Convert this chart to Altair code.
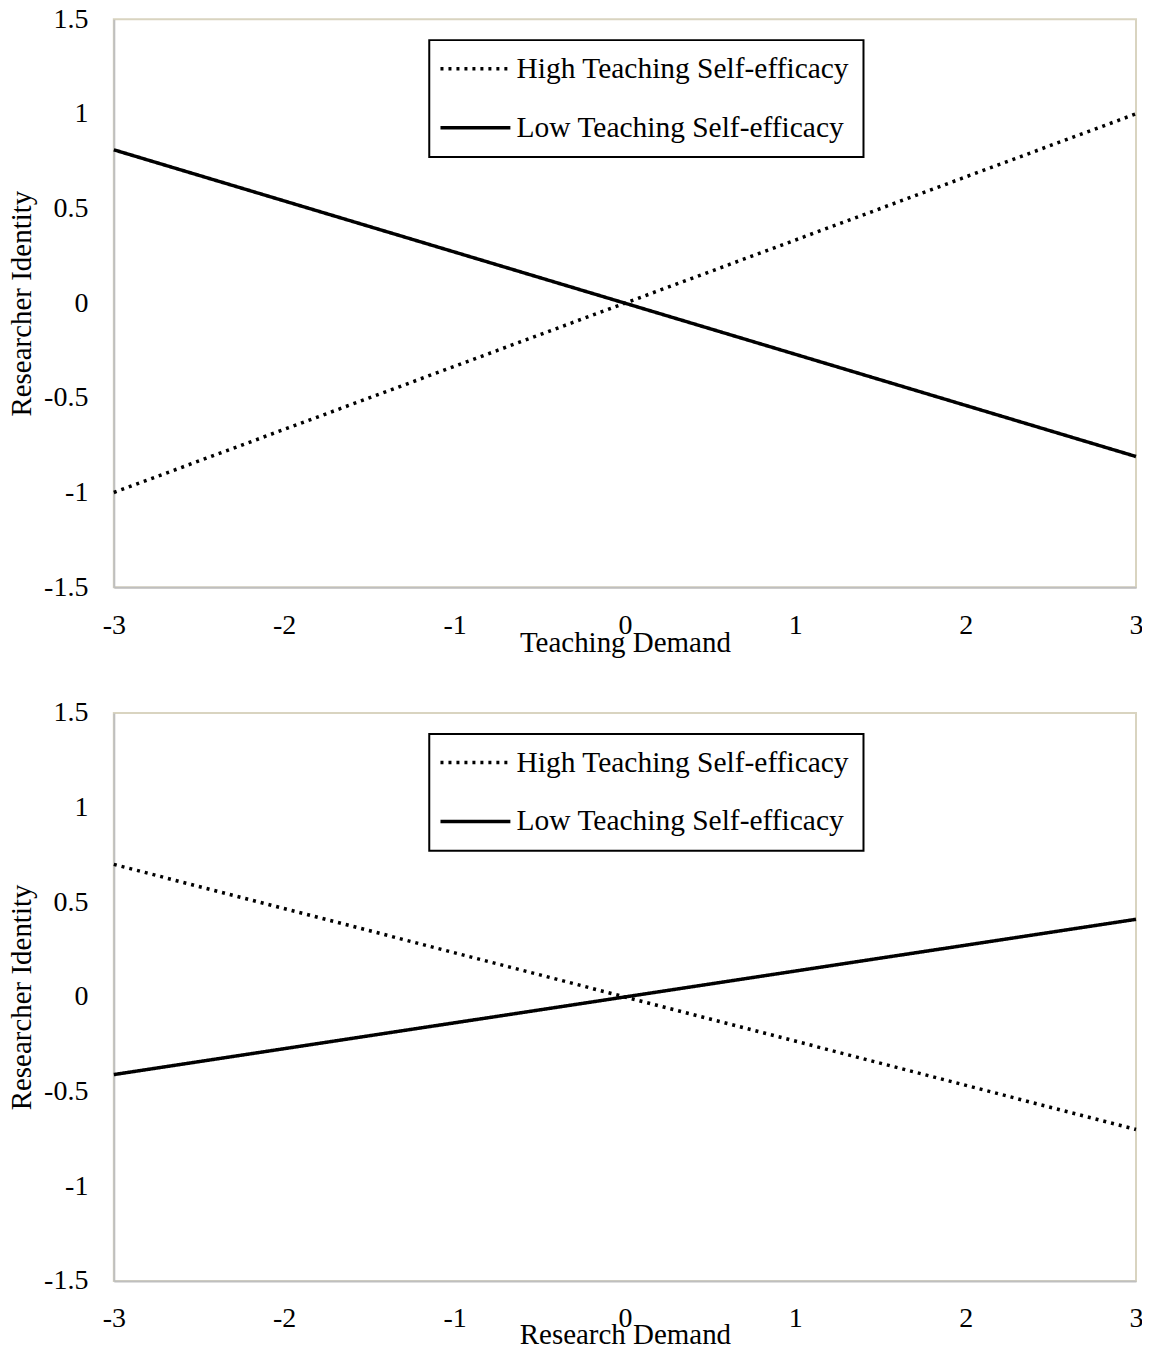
import altair as alt
import pandas as pd

x_vals = [-3, 3]
series_names = ["High Teaching Self-efficacy", "Low Teaching Self-efficacy"]
top_high = [-1.0, 1.0]
top_low = [0.81, -0.81]
bottom_high = [0.70, -0.70]
bottom_low = [-0.41, 0.41]
x_ticks = [-3, -2, -1, 0, 1, 2, 3]
y_ticks = [-1.5, -1, -0.5, 0, 0.5, 1, 1.5]
x_titles = ["Teaching Demand", "Research Demand"]
y_title = "Researcher Identity"

FONT = "Liberation Serif"


def make_df(high, low):
    rows = []
    for xv, yv in zip(x_vals, high):
        rows.append({"x": xv, "y": yv, "series": series_names[0]})
    for xv, yv in zip(x_vals, low):
        rows.append({"x": xv, "y": yv, "series": series_names[1]})
    return pd.DataFrame(rows)


def panel(df, xtitle, title_y):
    return alt.Chart(df).mark_line(strokeWidth=3.5, color="black", clip=False).encode(
        x=alt.X("x:Q",
                scale=alt.Scale(domain=[-3, 3], nice=False, zero=False),
                axis=alt.Axis(values=x_ticks, title=xtitle, labelExpr="'' + datum.value",
                              ticks=False, grid=False, labelPadding=24, labelFlush=False,
                              titleX=512, titleY=title_y, titleBaseline="alphabetic", titleAlign="center",
                              domainColor="#BFBFBF", domainWidth=2)),
        y=alt.Y("y:Q",
                scale=alt.Scale(domain=[-1.5, 1.5], nice=False, zero=False),
                axis=alt.Axis(values=y_ticks, title=y_title, labelExpr="'' + datum.value",
                              ticks=False, grid=False, labelPadding=26, labelFlush=False,
                              titleX=-92, titleY=284.5, titleAngle=270, titleBaseline="middle",
                              titleAlign="center", domainColor="#BFBFBF", domainWidth=2)),
        strokeDash=alt.StrokeDash(
            "series:N",
            scale=alt.Scale(domain=series_names, range=[[3, 5], [1, 0]]),
            legend=alt.Legend(title=None, orient="none", legendX=316, legendY=21,
                              symbolType="M-1.5,0H4.5", symbolSize=545, symbolStrokeWidth=3.5,
                              symbolStrokeColor="black", labelFontSize=29.5, labelOffset=44,
                              padding=14, rowPadding=28, strokeColor="black",
                              labelLimit=0, labelColor="black", labelFont=FONT)),
    ).properties(width=1024, height=569)


top = panel(make_df(top_high, top_low), x_titles[0], 64)
bottom = panel(make_df(bottom_high, bottom_low), x_titles[1], 63)

chart = alt.vconcat(top, bottom, spacing=126, bounds="flush").resolve_scale(
    strokeDash="independent"
).resolve_legend(
    strokeDash="independent"
).properties(
    padding={"left": -1, "top": -5, "right": -2, "bottom": -4}
).configure_view(
    stroke="#D9D4C0", strokeWidth=2
).configure_axis(
    labelFont=FONT, titleFont=FONT, labelFontSize=28, titleFontSize=29,
    labelColor="black", titleColor="black", titleFontWeight="normal"
).configure_legend(
    strokeWidth=2
)

chart.save("out.html", embed_options={"renderer": "svg", "actions": False})
